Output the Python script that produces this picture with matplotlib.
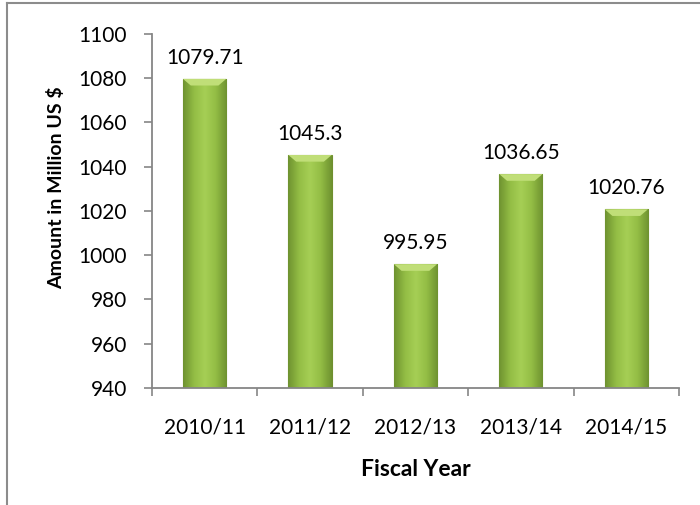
import matplotlib.pyplot as plt
import numpy as np
from matplotlib.colors import LinearSegmentedColormap
from matplotlib.lines import Line2D

years = ['2010/11', '2011/12', '2012/13', '2013/14', '2014/15']
amounts = [1079.71, 1045.3, 995.95, 1036.65, 1020.76]
labels = ['1079.71', '1045.3', '995.95', '1036.65', '1020.76']

plt.rcParams['font.family'] = ['Lato', 'DejaVu Sans']

fig = plt.figure(figsize=(7.0, 5.05), dpi=100)
ax = fig.add_axes([0.217, 0.2317, 0.753, 0.701])

x = np.arange(len(years))
bars = ax.bar(x, amounts, width=0.41, color='#9BC44B', edgecolor='#6F8F2E',
              linewidth=0.8, zorder=2)

# horizontal shading across each bar, darker at the edges
shade = LinearSegmentedColormap.from_list(
    'shade', ['#6F9330', '#93BD45', '#A6CF55', '#93BD45', '#6F9330'])
grad = np.linspace(0, 1, 64).reshape(1, -1)
for b in bars:
    x0, w, h = b.get_x(), b.get_width(), b.get_height()
    im = ax.imshow(grad, cmap=shade, aspect='auto', zorder=2.5,
                   extent=[x0, x0 + w, 940, h])
    im.set_clip_path(b)
    # light bevel cap on top
    cap = 3.0
    ax.fill([x0, x0 + w, x0 + w * 0.82, x0 + w * 0.18],
            [h, h, h - cap, h - cap], color='#C0DE78', zorder=3, lw=0)

ax.set_ylim(940, 1100)
ax.set_xlim(-0.5, len(years) - 0.5)
ax.set_yticks(np.arange(940, 1101, 20))
ax.set_xticks(x)
ax.set_xticklabels(years)
ax.set_xticks(np.arange(-0.5, len(years), 1), minor=True)
ax.tick_params(axis='x', which='major', length=0, pad=21, labelsize=15)
ax.tick_params(axis='x', which='minor', length=6, color='#868686', width=1.2)
ax.tick_params(axis='y', length=6, color='#868686', width=1.2, labelsize=15, pad=12)
for s in ['top', 'right']:
    ax.spines[s].set_visible(False)
for s in ['left', 'bottom']:
    ax.spines[s].set_color('#868686')
    ax.spines[s].set_linewidth(1.3)

for xi, v, t in zip(x, amounts, labels):
    ax.text(xi, v + 5, t, ha='center', va='bottom', fontsize=15)

ax.set_xlabel('Fiscal Year', fontsize=16.5, fontweight='bold')
ax.xaxis.set_label_coords(0.5, -0.201)
ax.set_ylabel('Amount in Million US $', fontsize=14, fontweight='bold')
ax.yaxis.set_label_coords(-0.165, 0.566)

# outer chart frame (top and left visible)
fig.add_artist(Line2D([0.010, 1.0], [0.994, 0.994], color='#8C8C8C', lw=1.5))
fig.add_artist(Line2D([0.010, 0.010], [0.0, 0.994], color='#8C8C8C', lw=1.5))

fig.savefig('out.png', dpi=100)
